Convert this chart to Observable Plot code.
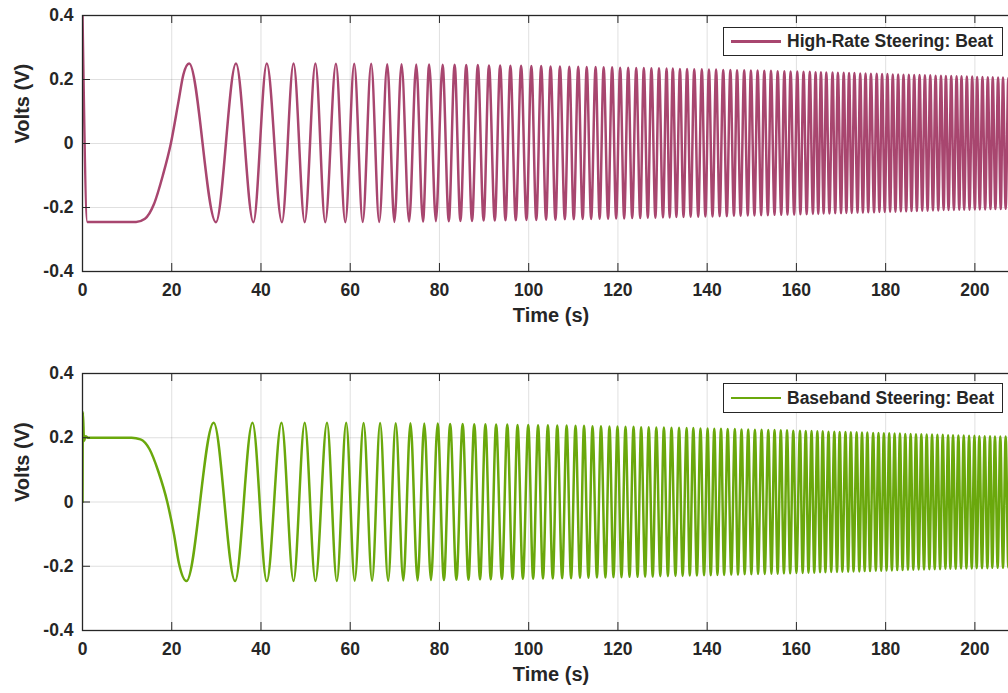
<!DOCTYPE html>
<html><head><meta charset="utf-8">
<script src="https://cdn.jsdelivr.net/npm/d3@7"></script>
<script src="https://cdn.jsdelivr.net/npm/@observablehq/plot@0.6"></script>
<style>
html,body{margin:0;padding:0;background:#fff;overflow:hidden;width:1008px;height:693px}
#wrap{position:relative;width:1008px;height:693px;overflow:hidden;font-family:"Liberation Sans",Arial,Helvetica,sans-serif;font-weight:bold;color:#262626}
.panel{position:absolute;left:0;max-width:none !important}
.legend{position:absolute;left:723px;width:280px;border:1.3px solid #262626;background:#fff;box-sizing:border-box;display:flex;align-items:center;font-size:17.5px;white-space:nowrap}
.legend .sw{width:50px;height:2.4px;margin-left:7px;margin-right:6px}
</style></head><body><div id="wrap"></div>
<script>
// ---- axes ----
const xDomain = [0, 210];
const yDomain = [-0.4, 0.4];
const xTicks = [0, 20, 40, 60, 80, 100, 120, 140, 160, 180, 200];
const yTicks = [-0.4, -0.2, 0, 0.2, 0.4];
const seriesNames = ["High-Rate Steering: Beat", "Baseband Steering: Beat"];
const seriesColors = ["#a8466f", "#6aa80c"];

// ---- High-Rate Steering: Beat  [time (s), volts] ----
const hrLead = [[0,0.4],[1.1,-0.245],[6,-0.245],[12,-0.245],[14,-0.235],[16,-0.19],[18,-0.1],[19.8,0],[21.5,0.13],[22.6,0.215]];
const hrPeaks = [[23.9,.25],[34.4,.25],[41.3,.25],[47.3,.25],[52.2,.25],[56.8,.249],[60.9,.249],[64.7,.249],[68.3,.248],[71.5,.248],[74.8,.247],[77.7,.247],[80.7,.246],[83.4,.246],[86.0,.245],[88.6,.245],[91.1,.244],[93.6,.244],[95.9,.243],[98.3,.243],[100.6,.242],[102.8,.242],[104.9,.241],[107.0,.241],[109.1,.24],[111.1,.24],[113.0,.239],[115.0,.239],[116.8,.238],[118.7,.238],[120.5,.237],[122.3,.237],[124.1,.236],[125.8,.236],[127.5,.235],[129.2,.235],[130.9,.234],[132.3,.234],[133.9,.233],[135.5,.233],[137.1,.232],[138.8,.232],[140.4,.231],[142.0,.231],[143.6,.23],[145.2,.23],[146.7,.229],[148.3,.229],[149.8,.228],[151.3,.228],[152.8,.227],[154.3,.227],[155.8,.226],[157.3,.226],[158.7,.225],[160.2,.225],[161.6,.224],[163.0,.224],[164.3,.223],[165.5,.223],[166.7,.222],[168.1,.222],[169.3,.221],[170.6,.221],[171.8,.22],[173.0,.22],[174.3,.219],[175.5,.219],[176.7,.218],[178.0,.218],[179.2,.217],[180.4,.217],[181.6,.216],[182.8,.216],[184.0,.215],[185.2,.215],[186.4,.214],[187.6,.214],[188.8,.213],[190.0,.213],[191.2,.212],[192.4,.212],[193.5,.211],[194.7,.211],[195.9,.21],[197.0,.21],[198.2,.209],[199.4,.209],[200.5,.208],[201.7,.208],[202.9,.207],[204.0,.207],[205.2,.206],[206.3,.206],[207.5,.205],[208.6,.205],[209.8,.204]];
const hrTroughs = [[29.9,-.246],[38.3,-.246],[44.7,-.246],[49.8,-.246],[54.4,-.246],[58.9,-.246],[62.8,-.245],[66.5,-.245],[69.9,-.245],[73.2,-.244],[76.3,-.244],[79.2,-.243],[82.1,-.243],[84.7,-.242],[87.3,-.242],[89.9,-.241],[92.4,-.241],[94.8,-.24],[97.1,-.24],[99.5,-.239],[101.7,-.239],[103.9,-.238],[106.0,-.238],[108.1,-.237],[110.1,-.237],[112.1,-.236],[114.0,-.236],[115.9,-.235],[117.8,-.235],[119.6,-.234],[121.4,-.234],[123.2,-.233],[125.0,-.233],[126.7,-.232],[128.4,-.232],[130.1,-.231],[131.6,-.231],[133.1,-.23],[134.7,-.23],[136.3,-.229],[138.0,-.229],[139.6,-.228],[141.2,-.228],[142.8,-.227],[144.4,-.227],[146.0,-.226],[147.5,-.226],[149.1,-.225],[150.6,-.225],[152.1,-.224],[153.6,-.224],[155.1,-.223],[156.6,-.223],[158.0,-.222],[159.5,-.222],[160.9,-.221],[162.3,-.221],[163.7,-.22],[164.9,-.22],[166.1,-.219],[167.4,-.219],[168.7,-.218],[170.0,-.218],[171.2,-.217],[172.4,-.217],[173.7,-.216],[174.9,-.216],[176.1,-.215],[177.4,-.215],[178.6,-.214],[179.8,-.214],[181.0,-.213],[182.2,-.213],[183.4,-.212],[184.6,-.212],[185.8,-.211],[187.0,-.211],[188.2,-.21],[189.4,-.21],[190.6,-.209],[191.8,-.209],[193.0,-.208],[194.1,-.208],[195.3,-.208],[196.5,-.207],[197.6,-.207],[198.8,-.207],[200.0,-.206],[201.1,-.206],[202.3,-.206],[203.5,-.205],[204.6,-.205],[205.8,-.205],[206.9,-.204],[208.0,-.204],[209.2,-.204]];

// ---- Baseband Steering: Beat  [time (s), volts] ----
const bbLead = [[0,0],[0.08,0.28],[0.35,0.19],[0.7,0.205],[1.2,0.2],[6,0.2],[11,0.2],[13,0.195],[15,0.165],[17,0.095],[19,0],[20.5,-0.1],[21.6,-0.19]];
const bbPeaks = [[29.4,.247],[38.1,.247],[44.6,.247],[49.8,.247],[54.8,.247],[59.1,.247],[63.0,.246],[66.7,.246],[70.2,.245],[73.5,.245],[76.6,.244],[79.6,.244],[82.4,.243],[85.2,.243],[87.8,.242],[90.3,.242],[92.7,.241],[95.2,.241],[97.5,.24],[99.9,.24],[102.1,.239],[104.3,.239],[106.4,.238],[108.5,.238],[110.5,.237],[112.4,.237],[114.3,.236],[116.2,.236],[118.1,.235],[119.9,.235],[121.7,.234],[123.5,.234],[125.2,.233],[126.9,.233],[128.6,.232],[130.3,.232],[132.0,.231],[133.7,.231],[135.4,.23],[136.9,.23],[138.5,.229],[140.1,.229],[141.6,.228],[143.1,.228],[144.6,.227],[146.2,.227],[147.7,.226],[149.2,.226],[150.7,.225],[152.2,.225],[153.7,.224],[155.1,.224],[156.5,.223],[157.9,.223],[159.3,.222],[160.8,.222],[162.1,.221],[163.4,.221],[164.7,.22],[165.9,.22],[167.2,.219],[168.5,.219],[169.7,.218],[171.0,.218],[172.2,.217],[173.5,.217],[174.7,.216],[175.9,.216],[177.2,.215],[178.4,.215],[179.6,.214],[180.8,.214],[182.0,.213],[183.2,.213],[184.4,.212],[185.6,.212],[186.8,.211],[188.0,.211],[189.2,.21],[190.4,.21],[191.6,.209],[192.8,.209],[194.0,.208],[195.1,.208],[196.3,.207],[197.5,.207],[198.7,.206],[199.9,.206],[201.0,.205],[202.2,.205],[203.4,.205],[204.5,.204],[205.7,.204],[206.9,.204],[208.1,.203],[209.3,.203]];
const bbTroughs = [[23.3,-.246],[34.2,-.246],[41.3,-.246],[47.3,-.246],[52.2,-.246],[57.0,-.246],[61.0,-.245],[64.9,-.245],[68.5,-.245],[71.9,-.244],[75.1,-.244],[78.1,-.243],[81.0,-.243],[83.8,-.242],[86.5,-.242],[89.1,-.241],[91.5,-.241],[94.0,-.24],[96.4,-.24],[98.7,-.239],[101.0,-.239],[103.2,-.238],[105.4,-.238],[107.5,-.237],[109.5,-.237],[111.5,-.236],[113.4,-.236],[115.3,-.235],[117.2,-.235],[119.0,-.234],[120.8,-.234],[122.6,-.233],[124.4,-.233],[126.1,-.232],[127.8,-.232],[129.5,-.231],[131.2,-.231],[132.9,-.23],[134.5,-.23],[136.1,-.229],[137.7,-.229],[139.3,-.228],[140.8,-.228],[142.3,-.227],[143.8,-.227],[145.4,-.226],[146.9,-.226],[148.4,-.225],[149.9,-.225],[151.4,-.224],[152.9,-.224],[154.4,-.223],[155.8,-.223],[157.2,-.222],[158.6,-.222],[160.0,-.221],[161.4,-.221],[162.7,-.22],[164.0,-.22],[165.3,-.219],[166.5,-.219],[167.8,-.218],[169.1,-.218],[170.3,-.217],[171.6,-.217],[172.8,-.216],[174.1,-.216],[175.3,-.215],[176.5,-.215],[177.8,-.214],[179.0,-.214],[180.2,-.213],[181.4,-.213],[182.6,-.212],[183.8,-.212],[185.0,-.211],[186.2,-.211],[187.4,-.21],[188.6,-.21],[189.8,-.209],[191.0,-.209],[192.2,-.209],[193.4,-.208],[194.5,-.208],[195.7,-.208],[196.9,-.207],[198.1,-.207],[199.3,-.207],[200.4,-.206],[201.6,-.206],[202.8,-.206],[203.9,-.205],[205.1,-.205],[206.3,-.205],[207.5,-.204],[208.7,-.204],[209.9,-.204]];

function toSeries(...parts) {
  return parts.flat().map(([t, v]) => ({t, v})).sort((a, b) => a.t - b.t);
}
const hrData = toSeries(hrLead, hrPeaks, hrTroughs);
const bbData = toSeries(bbLead, bbPeaks, bbTroughs);

const INK = "#262626";
const FONT = '"Liberation Sans", Arial, Helvetica, sans-serif';
const W = 1030, ML = 82, MR = 11, TICK = 8;

function panel(data, color, height, mt, mb) {
  const ph = height - mt - mb, pw = W - ML - MR;
  const svg = Plot.plot({
    width: W, height, marginLeft: ML, marginRight: MR, marginTop: mt, marginBottom: mb,
    x: {domain: xDomain},
    y: {domain: yDomain},
    style: {fontFamily: FONT, fontSize: "17.5px", fontWeight: "bold", color: INK, background: "transparent", overflow: "visible", maxWidth: "none"},
    marks: [
      Plot.gridX(xTicks, {stroke: INK, strokeOpacity: 0.14}),
      Plot.gridY(yTicks, {stroke: INK, strokeOpacity: 0.14}),
      Plot.line(data, {x: "t", y: "v", curve: "monotone-x", stroke: color, strokeWidth: 2.5, clip: true}),
      Plot.frame({stroke: INK, strokeWidth: 1.3}),
      Plot.tickX(xTicks, {x: d => d, insetTop: ph - TICK, stroke: INK}),
      Plot.tickX(xTicks, {x: d => d, insetBottom: ph - TICK, stroke: INK}),
      Plot.tickY(yTicks, {y: d => d, insetRight: pw - TICK, stroke: INK}),
      Plot.axisX(xTicks, {tickSize: 0, tickPadding: 12, label: null, tickFormat: d => String(d)}),
      Plot.axisY(yTicks, {tickSize: 0, tickPadding: 9, label: null, tickFormat: d => d === 0 ? "0" : d.toFixed(1)}),
      Plot.text(["Time (s)"], {frameAnchor: "bottom", dy: 50, fontSize: 20, fill: INK}),
      Plot.text(["Volts (V)"], {frameAnchor: "left", dx: -60, rotate: -90, fontSize: 20, fill: INK})
    ]
  });
  svg.style.maxWidth = "none";
  svg.setAttribute("width", W);
  svg.setAttribute("height", height);
  svg.style.width = W + "px";
  svg.style.height = height + "px";
  return svg;
}

const wrap = document.getElementById("wrap");
const top1 = panel(hrData, seriesColors[0], 350, 15, 79);
top1.classList.add("panel"); top1.style.top = "0px";
const bot1 = panel(bbData, seriesColors[1], 343, 23, 63);
bot1.classList.add("panel"); bot1.style.top = "350px";
wrap.appendChild(top1);
wrap.appendChild(bot1);

function legend(name, color, top, h) {
  const d = document.createElement("div");
  d.className = "legend";
  d.style.top = top + "px";
  d.style.height = h + "px";
  const sw = document.createElement("div");
  sw.className = "sw"; sw.style.background = color;
  const tx = document.createElement("span");
  tx.textContent = name;
  d.appendChild(sw); d.appendChild(tx);
  wrap.appendChild(d);
}
legend(seriesNames[0], seriesColors[0], 27, 29);
legend(seriesNames[1], seriesColors[1], 383, 30);
</script>
</body></html>
